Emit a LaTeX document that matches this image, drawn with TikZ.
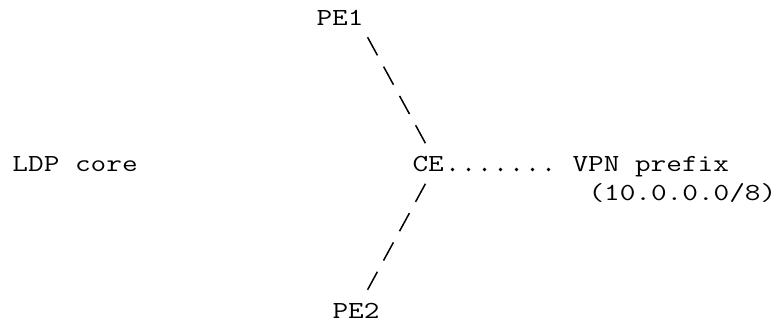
\documentclass[tikz,border=0pt]{standalone}
\usepackage{graphicx}
\begin{document}
\begin{tikzpicture}[x=1pt, y=-1pt,
  lbl/.style={anchor=base west, inner sep=0pt, outer sep=0pt,
    font=\ttfamily\fontsize{24.5}{29.3}\selectfont},
  slashline/.style={line width=1.5pt, line cap=butt, dash pattern=on 20.6pt off 12.8pt},
  dotline/.style={line width=3.6pt, line cap=round, dash pattern=on 0pt off 16pt}]
  % canvas
  \useasboundingbox (0,0) rectangle (778,324);
  % labels, set on a 16 x 29.3 character grid
  \newcommand{\wide}[1]{\scalebox{1.24}[1]{#1}}
  \node[lbl] (PE1) at (316.5, 25)    {\wide{PE1}};
  \node[lbl] (LDP) at (12.5, 171.5)  {\wide{LDP core}};
  \node[lbl] (CE)  at (412.5, 171.5) {\wide{CE}};
  \node[lbl] (VPN) at (572.5, 171.5) {\wide{VPN prefix}};
  \node[lbl] (PFX) at (588.5, 200.8) {\wide{(10.0.0.0/8)}};
  \node[lbl] (PE2) at (332.5, 318)   {\wide{PE2}};
  % ends of the links
  \coordinate (pe1link) at (367.6, 37.3);
  \coordinate (ceup)    at (425.4, 143.2);
  \coordinate (cedown)  at (425.4, 183.8);
  \coordinate (pe2link) at (367.6, 289.7);
  \coordinate (dotsA)   at (452.5, 169.5);
  \coordinate (dotsB)   at (549.0, 169.5);
  % links
  \draw[slashline] (pe1link) -- (ceup);
  \draw[slashline] (cedown) -- (pe2link);
  \draw[dotline] (dotsA) -- (dotsB);
\end{tikzpicture}
\end{document}
